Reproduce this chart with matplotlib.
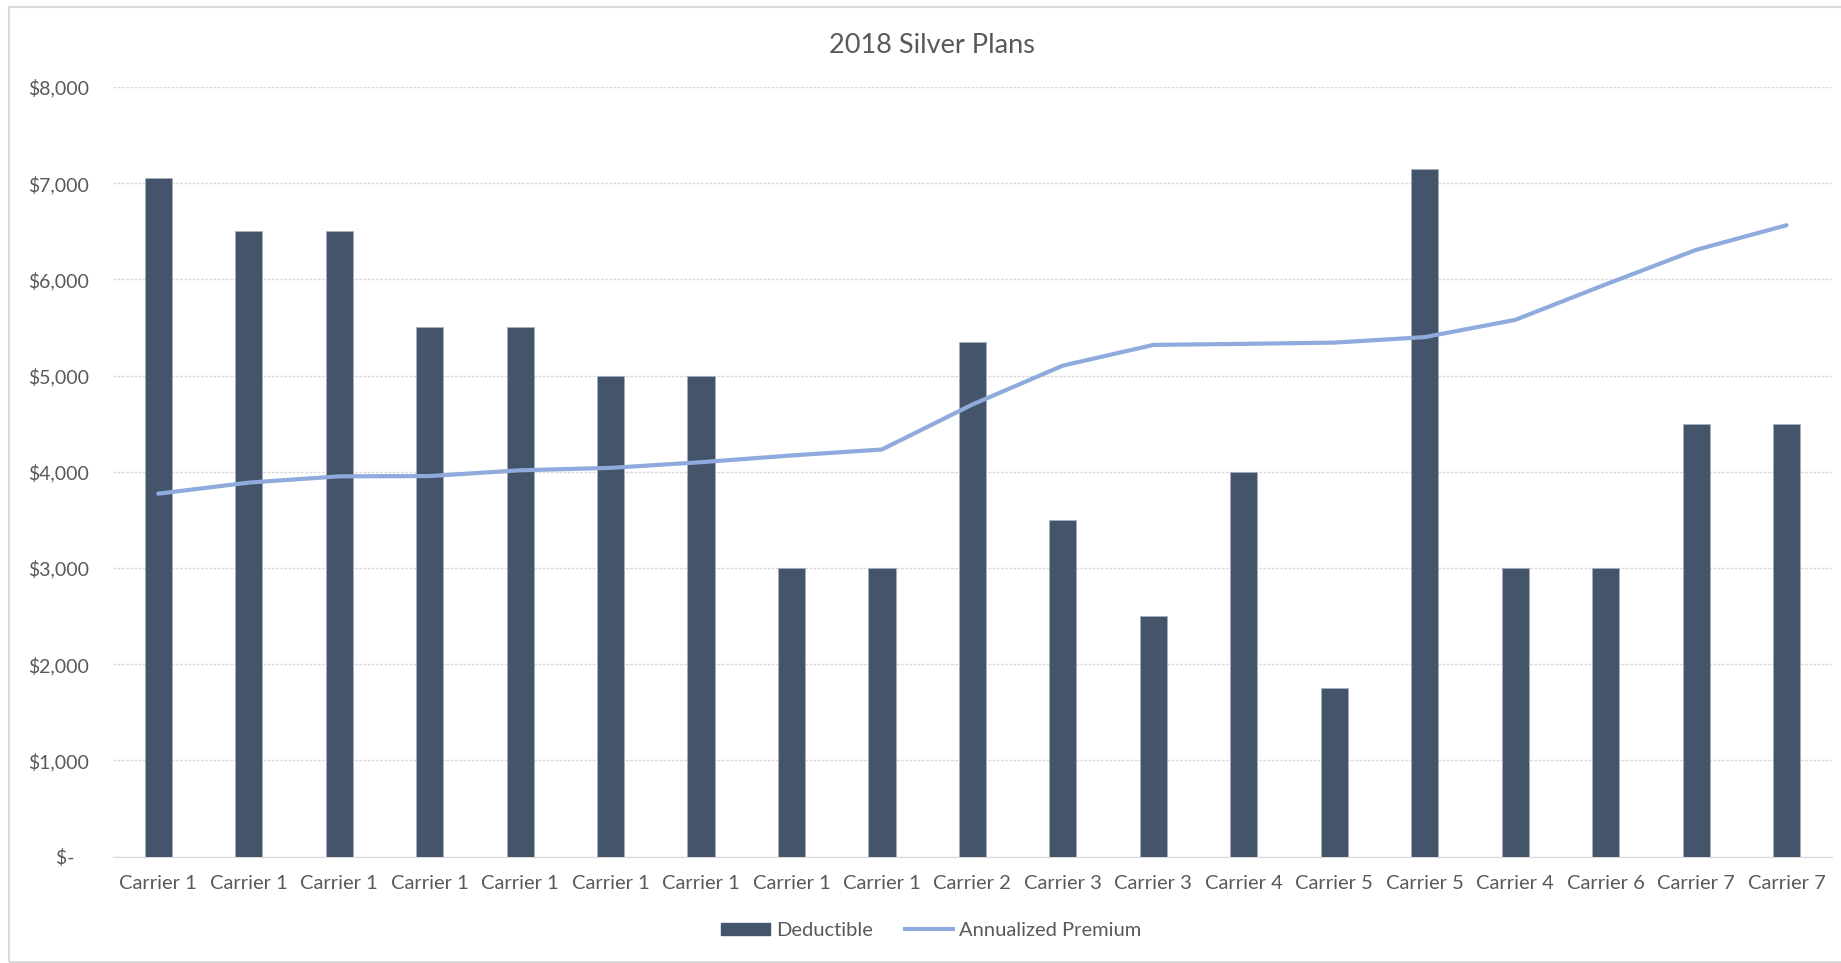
import numpy as np
import matplotlib
matplotlib.use('Agg')
import matplotlib.pyplot as plt
from matplotlib.patches import Rectangle, Patch
from matplotlib.lines import Line2D
from matplotlib.ticker import FuncFormatter

plt.rcParams['font.family'] = ['Lato', 'DejaVu Sans']

# plan data
carriers = ['Carrier 1', 'Carrier 1', 'Carrier 1', 'Carrier 1', 'Carrier 1', 'Carrier 1',
            'Carrier 1', 'Carrier 1', 'Carrier 1', 'Carrier 2', 'Carrier 3', 'Carrier 3',
            'Carrier 4', 'Carrier 5', 'Carrier 5', 'Carrier 4', 'Carrier 6', 'Carrier 7',
            'Carrier 7']
deductible = [7050, 6500, 6500, 5500, 5500, 5000, 5000, 3000, 3000, 5350,
              3500, 2500, 4000, 1750, 7150, 3000, 3000, 4500, 4500]
premium = [3773, 3888, 3953, 3956, 4016, 4041, 4100, 4170, 4232, 4700,
           5104, 5319, 5330, 5343, 5400, 5579, 5948, 6307, 6563]

bar_color = '#44546A'
line_color = '#8FAADC'
text_color = '#595959'
grid_color = '#D9D9D9'

fig = plt.figure(figsize=(18.41, 9.63), dpi=100)
ax = fig.add_axes([0.0614, 0.1104, 0.9336, 0.7993])

x = np.arange(len(carriers))
ax.bar(x, deductible, width=0.3, color=bar_color, edgecolor='#A6AEB9', linewidth=0.6, zorder=2)
ax.plot(x, premium, color=line_color, linewidth=3, solid_capstyle='round', zorder=3)

ax.set_xlim(-0.5, len(carriers) - 0.5)
ax.set_ylim(0, 8000)
ax.set_yticks(np.arange(0, 8001, 1000))


def dollars(v, pos):
    if v == 0:
        return '$-   '
    return '${:,.0f}'.format(v)


ax.yaxis.set_major_formatter(FuncFormatter(dollars))
ax.set_xticks(x)
ax.set_xticklabels(carriers)
ax.tick_params(axis='both', length=0, labelcolor=text_color)
ax.tick_params(axis='y', pad=17, labelsize=14)
ax.tick_params(axis='x', pad=13, labelsize=14.5)

ax.grid(axis='y', color=grid_color, linewidth=1, linestyle=(0, (2, 1)), zorder=0)
for s in ['top', 'right', 'left']:
    ax.spines[s].set_visible(False)
ax.spines['bottom'].set_color(grid_color)
ax.spines['bottom'].set_linestyle((0, (2, 1)))
ax.spines['bottom'].set_zorder(1)

fig.text(0.506, 0.953, '2018 Silver Plans', ha='center', va='center',
         fontsize=19.5, color=text_color)

handles = [Patch(facecolor=bar_color, edgecolor=bar_color),
           Line2D([0], [0], color=line_color, linewidth=3)]
fig.legend(handles, ['Deductible', 'Annualized Premium'], loc='center',
           bbox_to_anchor=(0.506, 0.034), ncol=2, frameon=False, fontsize=14.5,
           labelcolor=text_color, handlelength=2.4, handleheight=0.55,
           columnspacing=1.6, handletextpad=0.3)

# chart area outline
fig.patches.append(Rectangle((9 / 1841, 1 / 963), 1.0, 955 / 963, transform=fig.transFigure,
                             fill=False, edgecolor=grid_color, linewidth=1.5))

fig.savefig('out.png', dpi=100)
